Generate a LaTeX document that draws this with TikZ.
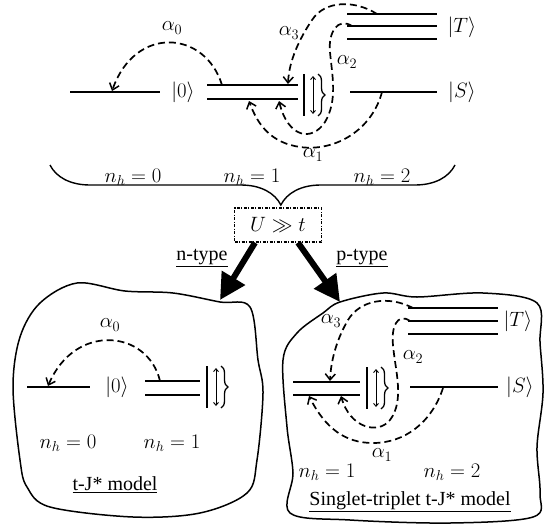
\documentclass[tikz,border=0pt]{standalone}
\usepackage{fontspec}
\setmainfont{Liberation Serif}
\usetikzlibrary{arrows.meta,decorations.pathreplacing,calc}
\begin{document}
\begin{tikzpicture}[x=1pt,y=-1pt,
  lvl/.style={line width=1.6pt},
  hop/.style={dash pattern=on 7pt off 4pt, line width=1.7pt, -{Straight Barb[length=6pt,width=10pt,line width=1.5pt]}},
  mth/.style={font=\fontsize{22}{24}\selectfont, inner sep=0pt},
  txt/.style={font=\fontsize{20}{22}\selectfont, inner sep=0pt},
  blob/.style={line width=1.5pt},
  big/.style={line width=6pt, -{Triangle[length=26pt,width=26pt]}},
  kbar/.style={line width=1.8pt},
  karrow/.style={line width=0.9pt, {Straight Barb[length=3pt,width=5pt]}-{Straight Barb[length=3pt,width=5pt]}},
  kbrace/.style={line width=1.3pt, decorate, decoration={brace, amplitude=7pt}},
  ketud/.pic={\draw[kbar] (0,-21)--(0,21); \draw[karrow] (9,-19)--(9,19); \draw[kbrace] (14,-21)--(14,21);},
]
\useasboundingbox (0,0) rectangle (545,527);

% ---------------- top panel ----------------
\draw[lvl] (70,92) -- (160,92);
\node[mth] (k0) at (183,92) {$|0\rangle$};
\draw[lvl] (207,85) -- (298,85);
\draw[lvl] (207,99) -- (298,99);
\pic at (304,95) {ketud};
\draw[lvl] (350,92) -- (437,92);
\node[mth] (kS) at (462,92) {$|S\rangle$};
\draw[lvl] (347,14) -- (437,14);
\draw[lvl] (347,26) -- (437,26);
\draw[lvl] (347,39) -- (437,39);
\node[mth] (kT) at (462,27) {$|T\rangle$};

\draw[hop] (222,85) .. controls (205,30) and (135,25) .. (112,91);
\draw[hop] (377,14) .. controls (355,0) and (325,0) .. (312,20) .. controls (300,38) and (289,60) .. (288,84);
\draw[hop] (352,26) .. controls (338,17) and (328,32) .. (330,52) .. controls (332,75) and (338,100) .. (325,122) .. controls (312,142) and (288,138) .. (279,101);
\draw[hop] (382,92) .. controls (372,130) and (335,152) .. (300,147) .. controls (272,143) and (258,126) .. (249,101);

\node[mth] (a0) at (172,28) {$\alpha_0$};
\node[mth] (a3) at (289,33) {$\alpha_3$};
\node[mth] (a2) at (347,62) {$\alpha_2$};
\node[mth] (a1) at (313,155) {$\alpha_1$};

\draw[line width=1.4pt, decorate, decoration={brace, mirror, amplitude=40pt, aspect=0.57}] (50,165) -- (455,165);

\node[mth] (t0) at (133,177) {$n_h = 0$};
\node[mth] (t1) at (252,177) {$n_h = 1$};
\node[mth] (t2) at (382,177) {$n_h = 2$};

\node[mth, draw, dash pattern=on 3pt off 1.5pt on 1pt off 1.5pt, line width=1.3pt,
      minimum width=87pt, minimum height=34pt] (ub) at (278,225) {$U \gg t$};

\coordinate (nt) at (220,300);
\coordinate (pt) at (340,302);
\draw[big] ([xshift=-23pt]ub.south) -- (nt);
\draw[big] ([xshift=20pt]ub.south) -- (pt);
\node[txt] (ntype) at (202,258) {\underline{n-type}};
\node[txt] (ptype) at (362,258) {\underline{p-type}};

% ---------------- blobs ----------------
\draw[blob] plot[smooth cycle, tension=0.55] coordinates {
 (77,283) (125,291) (173,293) (220,302) (250,307) (258,360) (263,393) (257,460)
 (247,493) (200,513) (133,517) (50,507) (27,487) (20,460) (13,387) (20,337) (40,303)};
\draw[blob] plot[smooth cycle, tension=0.55] coordinates {
 (340,302) (383,293) (417,297) (483,293) (537,303) (540,343) (543,393) (537,447)
 (540,493) (533,517) (450,523) (350,520) (290,513) (293,473) (287,427) (283,360)
 (297,333) (323,313)};

% ---------------- bottom-left ----------------
\draw[lvl] (27,387) -- (90,387);
\node[mth] (b0) at (117,387) {$|0\rangle$};
\draw[lvl] (145,381) -- (200,381);
\draw[lvl] (145,395) -- (200,395);
\pic at (207,387) {ketud};
\draw[hop] (160,381) .. controls (148,330) and (75,322) .. (48,386);
\node[mth] (ba0) at (110,325) {$\alpha_0$};
\node[mth] (bn0) at (68,443) {$n_h = 0$};
\node[mth] (bn1) at (172,443) {$n_h = 1$};
\node[txt] (bl) at (115,485) {\underline{t-J* model}};

% ---------------- bottom-right ----------------
\draw[lvl] (408,308) -- (498,308);
\draw[lvl] (408,321) -- (498,321);
\draw[lvl] (408,334) -- (498,334);
\node[mth] (bT) at (518,321) {$|T\rangle$};
\draw[lvl] (410,387) -- (498,387);
\node[mth] (bS) at (520,387) {$|S\rangle$};
\draw[lvl] (293,382) -- (360,382);
\draw[lvl] (293,395) -- (360,395);
\pic at (367,388) {ketud};

\draw[hop] (413,308) .. controls (388,295) and (360,300) .. (348,320) .. controls (338,337) and (331,358) .. (330,381);
\draw[hop] (410,321) .. controls (397,312) and (391,328) .. (393,345) .. controls (395,370) and (405,400) .. (390,420) .. controls (378,435) and (350,428) .. (341,396);
\draw[hop] (443,388) .. controls (432,422) and (405,443) .. (373,443) .. controls (345,443) and (325,428) .. (309,396);

\node[mth] (ba3) at (331,321) {$\alpha_3$};
\node[mth] (ba2) at (413,357) {$\alpha_2$};
\node[mth] (ba1) at (382,455) {$\alpha_1$};
\node[mth] (bn1r) at (327,472) {$n_h = 1$};
\node[mth] (bn2r) at (452,472) {$n_h = 2$};
\node[txt] (br) at (410,502) {\underline{Singlet-triplet t-J* model}};
\end{tikzpicture}
\end{document}
